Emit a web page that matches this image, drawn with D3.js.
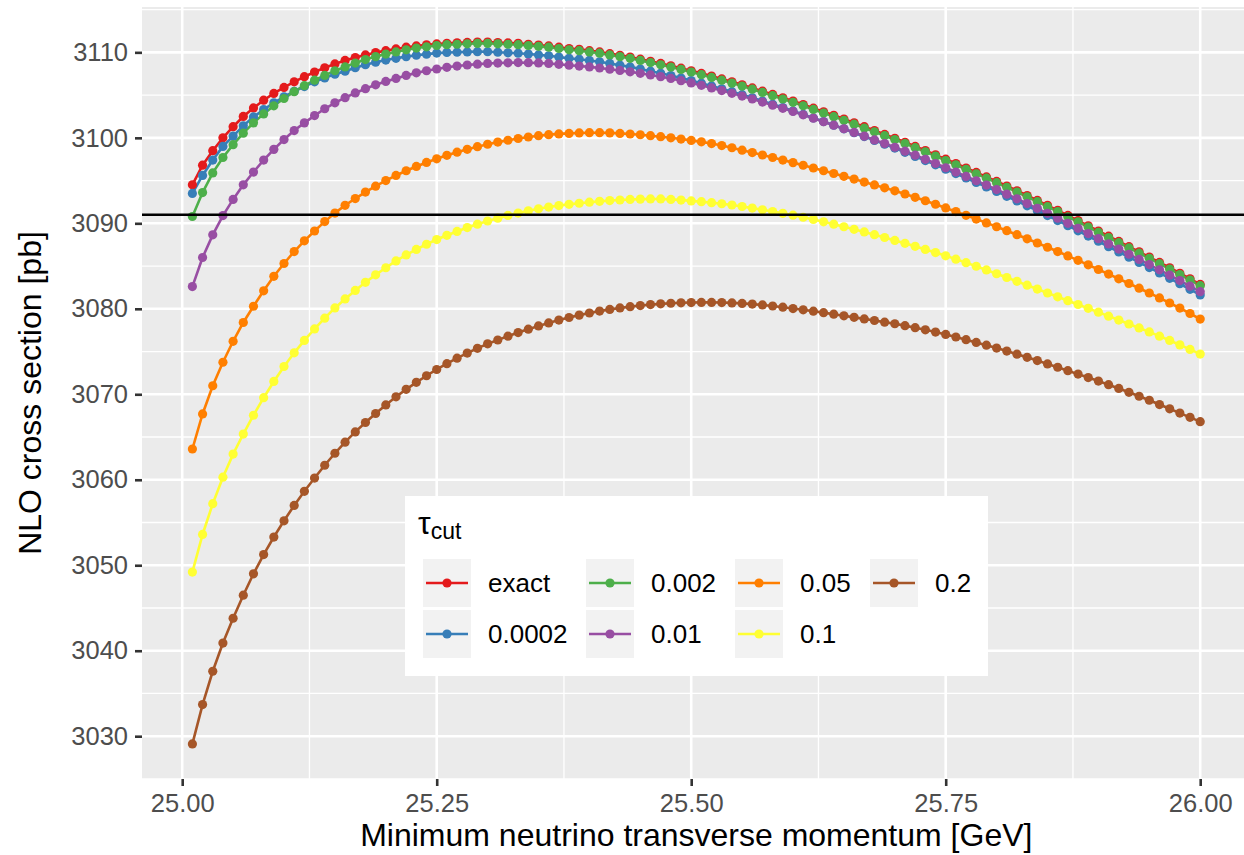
<!DOCTYPE html>
<html><head><meta charset="utf-8">
<script src="https://cdn.jsdelivr.net/npm/d3@7"></script>
<style>body{margin:0;background:#fff}svg{display:block;font-family:"Liberation Sans",Arial,Helvetica,sans-serif}</style>
</head><body><svg id="c" width="1244" height="855"></svg>
<script>
const xValues = [25.01,25.02,25.03,25.04,25.05,25.06,25.07,25.08,25.09,25.10,
25.11,25.12,25.13,25.14,25.15,25.16,25.17,25.18,25.19,25.20,
25.21,25.22,25.23,25.24,25.25,25.26,25.27,25.28,25.29,25.30,
25.31,25.32,25.33,25.34,25.35,25.36,25.37,25.38,25.39,25.40,
25.41,25.42,25.43,25.44,25.45,25.46,25.47,25.48,25.49,25.50,
25.51,25.52,25.53,25.54,25.55,25.56,25.57,25.58,25.59,25.60,
25.61,25.62,25.63,25.64,25.65,25.66,25.67,25.68,25.69,25.70,
25.71,25.72,25.73,25.74,25.75,25.76,25.77,25.78,25.79,25.80,
25.81,25.82,25.83,25.84,25.85,25.86,25.87,25.88,25.89,25.90,
25.91,25.92,25.93,25.94,25.95,25.96,25.97,25.98,25.99,26.00];

const seriesNames = ["exact","0.0002","0.002","0.01","0.05","0.1","0.2"];
const seriesColors = ["#E41A1C","#377EB8","#4DAF4A","#984EA3","#FF7F00","#FFFF33","#A65628"];

const yExact = [3094.5,3096.8,3098.5,3100.0,3101.3,3102.5,3103.5,3104.4,3105.2,3105.9,
3106.55,3107.15,3107.7,3108.2,3108.65,3109.05,3109.4,3109.7,3109.97,3110.2,
3110.4,3110.6,3110.75,3110.88,3110.98,3111.06,3111.12,3111.16,3111.2,3111.2,
3111.15,3111.1,3111.05,3110.95,3110.85,3110.75,3110.6,3110.45,3110.35,3110.2,
3110.05,3109.85,3109.65,3109.45,3109.2,3108.95,3108.7,3108.43,3108.15,3107.85,
3107.54,3107.22,3106.89,3106.55,3106.2,3105.84,3105.46,3105.08,3104.69,3104.3,
3103.89,3103.47,3103.05,3102.63,3102.2,3101.75,3101.3,3100.85,3100.4,3099.95,
3099.48,3099.0,3098.51,3098.01,3097.5,3096.99,3096.47,3095.95,3095.43,3094.9,
3094.36,3093.81,3093.25,3092.68,3092.1,3091.52,3090.92,3090.32,3089.71,3089.1,
3088.49,3087.88,3087.27,3086.66,3086.05,3085.43,3084.8,3084.16,3083.51,3082.85];

const y0002 = [3093.5,3095.6,3097.4,3099.0,3100.2,3101.4,3102.45,3103.3,3104.1,3104.8,
3105.45,3106.0,3106.55,3107.0,3107.45,3107.8,3108.2,3108.55,3108.85,3109.1,
3109.3,3109.5,3109.67,3109.79,3109.91,3109.99,3110.02,3110.05,3110.08,3110.07,
3110.01,3109.95,3109.9,3109.8,3109.7,3109.6,3109.45,3109.3,3109.2,3109.05,
3108.9,3108.7,3108.5,3108.3,3108.05,3107.8,3107.55,3107.28,3107.0,3106.7,
3106.39,3106.07,3105.74,3105.4,3105.05,3104.69,3104.31,3103.93,3103.54,3103.15,
3102.74,3102.32,3101.9,3101.48,3101.05,3100.6,3100.15,3099.7,3099.25,3098.8,
3098.31,3097.83,3097.34,3096.84,3096.33,3095.82,3095.3,3094.78,3094.26,3093.73,
3093.16,3092.61,3092.05,3091.48,3090.9,3090.32,3089.72,3089.12,3088.51,3087.9,
3087.26,3086.65,3086.04,3085.43,3084.82,3084.2,3083.57,3082.93,3082.28,3081.62];

const y002 = [3090.8,3093.6,3095.9,3097.7,3099.2,3100.55,3101.75,3102.8,3103.75,3104.6,
3105.4,3106.1,3106.75,3107.3,3107.85,3108.3,3108.75,3109.15,3109.5,3109.8,
3110.05,3110.3,3110.5,3110.65,3110.8,3110.9,3110.95,3111.0,3111.05,3111.05,
3111.0,3110.95,3110.9,3110.8,3110.7,3110.6,3110.45,3110.3,3110.2,3110.05,
3109.9,3109.7,3109.5,3109.3,3109.05,3108.8,3108.55,3108.28,3108.0,3107.7,
3107.39,3107.07,3106.74,3106.4,3106.05,3105.69,3105.31,3104.93,3104.54,3104.15,
3103.74,3103.32,3102.9,3102.48,3102.05,3101.6,3101.15,3100.7,3100.25,3099.8,
3099.33,3098.85,3098.36,3097.86,3097.35,3096.84,3096.32,3095.8,3095.28,3094.75,
3094.21,3093.66,3093.1,3092.53,3091.95,3091.37,3090.77,3090.17,3089.56,3088.95,
3088.34,3087.73,3087.12,3086.51,3085.9,3085.28,3084.65,3084.01,3083.36,3082.7];

const y01 = [3082.6,3086.0,3088.65,3090.9,3092.8,3094.5,3096.0,3097.4,3098.65,3099.8,
3100.85,3101.75,3102.6,3103.4,3104.1,3104.7,3105.25,3105.75,3106.2,3106.6,
3106.95,3107.3,3107.6,3107.85,3108.05,3108.25,3108.4,3108.52,3108.62,3108.7,
3108.75,3108.78,3108.8,3108.79,3108.76,3108.7,3108.6,3108.5,3108.4,3108.3,
3108.17,3108.03,3107.88,3107.72,3107.55,3107.36,3107.16,3106.95,3106.69,3106.42,
3106.14,3105.84,3105.53,3105.21,3104.88,3104.54,3104.18,3103.82,3103.45,3103.08,
3102.69,3102.29,3101.88,3101.48,3101.06,3100.63,3100.2,3099.76,3099.33,3098.9,
3098.44,3097.97,3097.49,3097.0,3096.5,3096.0,3095.49,3094.98,3094.47,3093.95,
3093.41,3092.87,3092.31,3091.75,3091.17,3090.6,3090.0,3089.41,3088.8,3088.2,
3087.59,3086.99,3086.38,3085.78,3085.17,3084.56,3083.93,3083.3,3082.65,3082.0];

const y05 = [3063.6,3067.7,3071.0,3073.75,3076.2,3078.4,3080.3,3082.1,3083.8,3085.3,
3086.7,3087.95,3089.1,3090.2,3091.2,3092.1,3092.9,3093.65,3094.35,3095.0,
3095.6,3096.15,3096.65,3097.12,3097.55,3097.95,3098.32,3098.66,3098.97,3099.25,
3099.5,3099.72,3099.92,3100.1,3100.25,3100.37,3100.46,3100.52,3100.57,3100.6,
3100.6,3100.58,3100.52,3100.45,3100.36,3100.25,3100.13,3100.0,3099.86,3099.7,
3099.53,3099.33,3099.1,3098.84,3098.56,3098.28,3097.99,3097.7,3097.4,3097.1,
3096.79,3096.47,3096.15,3095.83,3095.5,3095.17,3094.83,3094.49,3094.15,3093.8,
3093.43,3093.04,3092.64,3092.23,3091.8,3091.37,3090.94,3090.5,3090.05,3089.6,
3089.14,3088.67,3088.19,3087.7,3087.2,3086.7,3086.19,3085.67,3085.14,3084.6,
3084.06,3083.51,3082.96,3082.41,3081.85,3081.27,3080.68,3080.08,3079.45,3078.8];

const y1 = [3049.2,3053.6,3057.2,3060.3,3063.0,3065.35,3067.55,3069.6,3071.5,3073.25,
3074.85,3076.3,3077.65,3078.9,3080.1,3081.15,3082.15,3083.1,3083.97,3084.8,
3085.6,3086.3,3086.95,3087.55,3088.1,3088.6,3089.05,3089.5,3089.9,3090.27,
3090.6,3090.92,3091.2,3091.46,3091.7,3091.9,3092.08,3092.22,3092.35,3092.47,
3092.57,3092.66,3092.73,3092.79,3092.83,3092.85,3092.85,3092.8,3092.72,3092.62,
3092.53,3092.42,3092.29,3092.14,3091.97,3091.78,3091.58,3091.38,3091.17,3090.95,
3090.71,3090.45,3090.18,3089.9,3089.6,3089.3,3088.99,3088.67,3088.34,3088.0,
3087.66,3087.31,3086.95,3086.58,3086.2,3085.81,3085.4,3084.98,3084.55,3084.1,
3083.66,3083.21,3082.76,3082.31,3081.85,3081.4,3080.95,3080.5,3080.05,3079.6,
3079.14,3078.68,3078.22,3077.76,3077.3,3076.8,3076.3,3075.78,3075.25,3074.7];

const y2 = [3029.1,3033.7,3037.6,3040.9,3043.8,3046.5,3049.0,3051.25,3053.3,3055.2,
3057.0,3058.65,3060.2,3061.7,3063.1,3064.4,3065.6,3066.7,3067.75,3068.75,
3069.7,3070.58,3071.4,3072.17,3072.9,3073.58,3074.22,3074.82,3075.38,3075.9,
3076.35,3076.8,3077.22,3077.62,3078.0,3078.35,3078.68,3078.98,3079.26,3079.51,
3079.73,3079.93,3080.1,3080.25,3080.38,3080.49,3080.58,3080.65,3080.7,3080.73,
3080.75,3080.75,3080.73,3080.69,3080.63,3080.55,3080.45,3080.33,3080.19,3080.03,
3079.88,3079.72,3079.55,3079.37,3079.18,3079.0,3078.82,3078.63,3078.44,3078.25,
3078.03,3077.79,3077.54,3077.28,3077.0,3076.7,3076.39,3076.07,3075.74,3075.4,
3075.05,3074.69,3074.32,3073.94,3073.55,3073.16,3072.76,3072.36,3071.96,3071.55,
3071.12,3070.68,3070.23,3069.77,3069.3,3068.8,3068.3,3067.8,3067.3,3066.8];

const xTicks = [25.00, 25.25, 25.50, 25.75, 26.00];
const xMinorTicks = [25.125, 25.375, 25.625, 25.875];
const yTicks = [3030, 3040, 3050, 3060, 3070, 3080, 3090, 3100, 3110];
const yMinorTicks = [3025, 3035, 3045, 3055, 3065, 3075, 3085, 3095, 3105, 3115];
const hlineValue = 3091;
const xTitle = "Minimum neutrino transverse momentum [GeV]";
const yTitle = "NLO cross section [pb]";
const legendTitleMain = "τ";
const legendTitleSub = "cut";

const seriesValues = [yExact, y0002, y002, y01, y05, y1, y2];
const series = seriesNames.map((n, i) => ({
  name: n, color: seriesColors[i],
  points: xValues.map((x, j) => ({x: x, y: seriesValues[i][j]}))
}));

const svg = d3.select("#c");
const P = {left: 142, top: 7, bottom: 779};

const xExt = d3.extent(xValues);
const xPad = (xExt[1] - xExt[0]) * 0.05;
const allY = seriesValues.flat();
const yExt = d3.extent(allY);
const yPad = (yExt[1] - yExt[0]) * 0.05;
const xPerUnit = 1018;
const xDom = [xExt[0] - xPad, xExt[1] + xPad];
const x = d3.scaleLinear().domain(xDom).range([P.left, P.left + (xDom[1] - xDom[0]) * xPerUnit]);
const y = d3.scaleLinear().domain([yExt[0] - yPad, yExt[1] + yPad]).range([P.bottom, P.top]);
const PR = x.range()[1];

// panel
svg.append("rect").attr("x", P.left).attr("y", P.top).attr("width", PR - P.left).attr("height", P.bottom - P.top).attr("fill", "#EBEBEB");
const grid = svg.append("g");
grid.selectAll(".ymin").data(yMinorTicks.filter(v => v >= y.domain()[0] && v <= y.domain()[1])).join("line")
  .attr("x1", P.left).attr("x2", PR).attr("y1", d => y(d)).attr("y2", d => y(d))
  .attr("stroke", "#fff").attr("stroke-width", 1.3);
grid.selectAll(".xmin").data(xMinorTicks).join("line")
  .attr("y1", P.top).attr("y2", P.bottom).attr("x1", d => x(d)).attr("x2", d => x(d))
  .attr("stroke", "#fff").attr("stroke-width", 1.3);
grid.selectAll(".ymaj").data(yTicks).join("line")
  .attr("x1", P.left).attr("x2", PR).attr("y1", d => y(d)).attr("y2", d => y(d))
  .attr("stroke", "#fff").attr("stroke-width", 2.6);
grid.selectAll(".xmaj").data(xTicks).join("line")
  .attr("y1", P.top).attr("y2", P.bottom).attr("x1", d => x(d)).attr("x2", d => x(d))
  .attr("stroke", "#fff").attr("stroke-width", 2.6);

// series lines
const line = d3.line().x(d => x(d.x)).y(d => y(d.y));
svg.append("g").selectAll("path").data(series).join("path")
  .attr("d", d => line(d.points)).attr("fill", "none")
  .attr("stroke", d => d.color).attr("stroke-width", 2.6);
// points
const pg = svg.append("g");
series.forEach(s => {
  pg.append("g").selectAll("circle").data(s.points).join("circle")
    .attr("cx", d => x(d.x)).attr("cy", d => y(d.y)).attr("r", 4.6).attr("fill", s.color);
});
// hline
svg.append("line").attr("x1", P.left).attr("x2", PR).attr("y1", y(hlineValue)).attr("y2", y(hlineValue))
  .attr("stroke", "#000").attr("stroke-width", 2.6);

// axes
const xAxis = svg.append("g").attr("transform", `translate(0,${P.bottom})`)
  .call(d3.axisBottom(x).tickValues(xTicks).tickFormat(d3.format(".2f")).tickSize(7).tickPadding(8));
const yAxis = svg.append("g").attr("transform", `translate(${P.left},0)`)
  .call(d3.axisLeft(y).tickValues(yTicks).tickFormat(d3.format("d")).tickSize(7).tickPadding(7));
[xAxis, yAxis].forEach(a => {
  a.select(".domain").remove();
  a.selectAll(".tick line").attr("stroke", "#333").attr("stroke-width", 2.6);
  a.selectAll(".tick text").attr("fill", "#4D4D4D").attr("font-size", 25.5).attr("font-family", '"Liberation Sans",Arial,sans-serif');
});

svg.append("text").attr("x", (P.left + PR) / 2).attr("y", 846).attr("text-anchor", "middle")
  .attr("font-size", 32).attr("fill", "#000").text(xTitle);
svg.append("text").attr("transform", `translate(41,${(P.top + P.bottom) / 2}) rotate(-90)`)
  .attr("text-anchor", "middle").attr("font-size", 32).attr("fill", "#000").text(yTitle);

// legend
const L = {x: 405, y: 496, w: 583, h: 180};
const lg = svg.append("g");
lg.append("rect").attr("x", L.x).attr("y", L.y).attr("width", L.w).attr("height", L.h).attr("fill", "#fff");
const tt = lg.append("text").attr("x", 418).attr("y", 534).attr("font-size", 32).attr("fill", "#000");
tt.append("tspan").text(legendTitleMain);
tt.append("tspan").attr("font-size", 23).attr("dy", 5).text(legendTitleSub);
const colX = [423, 586, 735, 870];
const rowY = [559, 610];
const keyW = 48, keyH = 48;
series.forEach((s, i) => {
  const c = Math.floor(i / 2), r = i % 2;
  const kx = colX[c], ky = rowY[r];
  lg.append("rect").attr("x", kx).attr("y", ky).attr("width", keyW).attr("height", keyH).attr("fill", "#F2F2F2");
  lg.append("line").attr("x1", kx + 3).attr("x2", kx + keyW - 3).attr("y1", ky + keyH / 2).attr("y2", ky + keyH / 2)
    .attr("stroke", s.color).attr("stroke-width", 2.6);
  lg.append("circle").attr("cx", kx + keyW / 2).attr("cy", ky + keyH / 2).attr("r", 4.6).attr("fill", s.color);
  lg.append("text").attr("x", kx + 65).attr("y", ky + keyH / 2 + 9).attr("font-size", 26).attr("fill", "#000").text(s.name);
});
</script></body></html>
